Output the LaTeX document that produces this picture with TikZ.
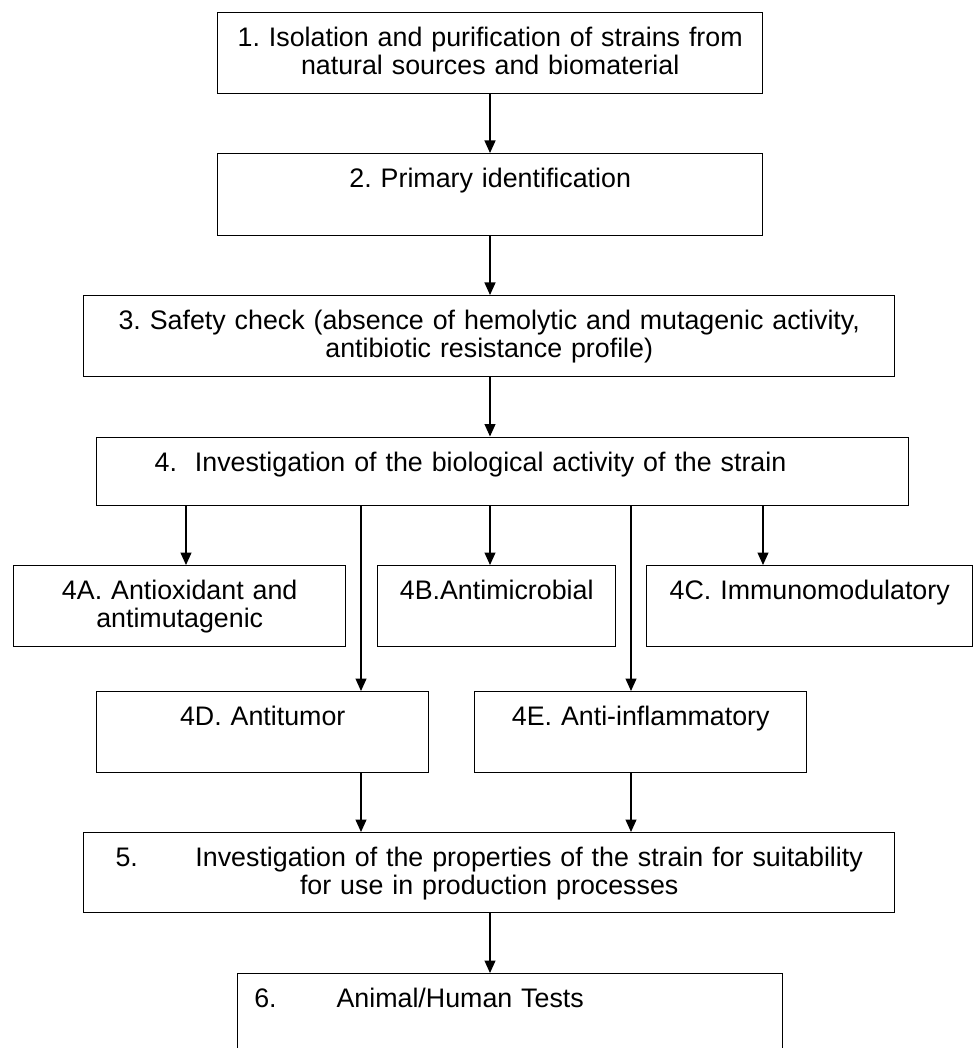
\documentclass[tikz,border=0pt]{standalone}
\usepackage{fontspec}
\setmainfont{Liberation Sans}
\usetikzlibrary{arrows.meta}
\frenchspacing

\tikzset{
	stage/.style={draw=black, line width=1.4pt, anchor=north west, inner xsep=0pt, inner ysep=0pt,
		align=center, text height=34pt, font=\fontsize{26.8pt}{28pt}\selectfont},
	flow/.style={-{Triangle[length=12.5pt, width=11pt]}, line width=1.2pt}
}

\begin{document}
\begin{tikzpicture}[x=1pt, y=-1pt]

	\useasboundingbox (0, 0) rectangle (973, 1048);
	\clip (0, 0) rectangle (973, 1048);

	\node[stage, text width=545pt, text depth=47pt] (s1) at (217, 12)
		{1. Isolation and purification of strains from\\natural sources and biomaterial};
	\node[stage, text width=545pt, text depth=48pt] (s2) at (217, 153)
		{2. Primary identification};
	\node[stage, text width=811pt, text depth=47pt] (s3) at (83, 295)
		{3. Safety check (absence of hemolytic and mutagenic activity,\\antibiotic resistance profile)};
	\node[stage, align=left, inner xsep=58pt, text width=696pt, text depth=34pt] (s4) at (96, 436.5)
		{4.\ \ Investigation of the biological activity of the strain};

	\node[stage, text width=332pt, text depth=47pt] (s4a) at (13, 565)
		{4A. Antioxidant and\\antimutagenic};
	\node[stage, text width=238pt, text depth=47pt] (s4b) at (377, 565)
		{4B.Antimicrobial};
	\node[stage, text width=326pt, text depth=47pt] (s4c) at (646, 565)
		{4C. Immunomodulatory};
	\node[stage, text width=332pt, text depth=47pt] (s4d) at (96, 691)
		{4D. Antitumor};
	\node[stage, text width=332pt, text depth=47pt] (s4e) at (474, 691)
		{4E. Anti-inflammatory};

	\node[stage, text width=811pt, text depth=46pt] (s5) at (83, 832)
		{5.\hspace{48.6pt} Investigation of the properties of the strain for suitability\\for use in production processes};
	\node[stage, align=left, inner xsep=16.6pt, text width=511.8pt, text depth=100pt] (s6) at (237, 973)
		{6.\hspace{51pt} Animal/Human Tests};

	% arrow columns
	\coordinate (xA) at (186, 0);
	\coordinate (xD) at (361, 0);
	\coordinate (xM) at (490, 0);
	\coordinate (xE) at (631, 0);
	\coordinate (xC) at (763, 0);

	\path[flow] (s1.south -| xM) edge (s2.north -| xM);
	\path[flow] (s2.south -| xM) edge (s3.north -| xM);
	\path[flow] (s3.south -| xM) edge (s4.north -| xM);
	\path[flow] (s4.south -| xA) edge (s4a.north -| xA);
	\path[flow] (s4.south -| xD) edge (s4d.north -| xD);
	\path[flow] (s4.south -| xM) edge (s4b.north -| xM);
	\path[flow] (s4.south -| xE) edge (s4e.north -| xE);
	\path[flow] (s4.south -| xC) edge (s4c.north -| xC);
	\path[flow] (s4d.south -| xD) edge (s5.north -| xD);
	\path[flow] (s4e.south -| xE) edge (s5.north -| xE);
	\path[flow] (s5.south -| xM) edge (s6.north -| xM);

\end{tikzpicture}
\end{document}
